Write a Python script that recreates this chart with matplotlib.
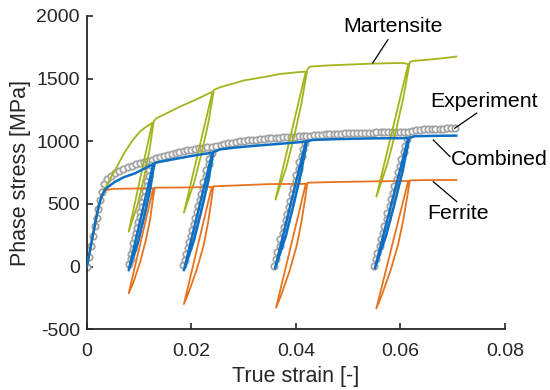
import matplotlib
matplotlib.use("Agg")
import matplotlib.pyplot as plt

plt.rcParams['font.family'] = ['Liberation Sans', 'DejaVu Sans']

# ---- Martensite phase stress (strain, MPa) ----
martensite_strain = [0, 0.0012, 0.0022, 0.0028, 0.0038, 0.0054, 0.0073, 0.0088, 0.0101, 0.0113, 0.0125,
                     0.0080, 0.00973, 0.01095, 0.01198, 0.0128,
                     0.0133, 0.0178, 0.021, 0.02405,
                     0.01856, 0.02053, 0.0220, 0.02328, 0.0243,
                     0.0255, 0.030, 0.035, 0.0369, 0.0405, 0.0419,
                     0.0361, 0.03815, 0.0397, 0.04105, 0.0422,
                     0.0427, 0.046, 0.050, 0.0548, 0.0605, 0.0615,
                     0.0554, 0.05753, 0.05915, 0.06058, 0.0618,
                     0.0624, 0.065, 0.068, 0.0707]
martensite_stress = [0, 250, 460, 560, 651, 771, 917, 1010, 1075, 1115, 1146,
                     280, 497, 713, 930, 1160,
                     1183, 1276, 1335, 1396,
                     430, 672, 913, 1155, 1410,
                     1431, 1485, 1521, 1537, 1552, 1556,
                     535, 790, 1045, 1300, 1575,
                     1596, 1605, 1612, 1620, 1625, 1615,
                     557, 822, 1086, 1350, 1632,
                     1641, 1650, 1662, 1676]

# ---- Combined (homogenised) stress ----
combined_strain = [0, 0.0012, 0.0022, 0.0028, 0.0034, 0.0045, 0.0054, 0.007, 0.0092, 0.011, 0.0127,
                   0.0080, 0.00972, 0.01095, 0.01207, 0.0129,
                   0.0135, 0.016, 0.019, 0.0215, 0.0240,
                   0.01856, 0.02047, 0.02188, 0.02319, 0.0242,
                   0.0255, 0.028, 0.031, 0.034, 0.037, 0.040, 0.0419,
                   0.0360, 0.03803, 0.03955, 0.04098, 0.0421,
                   0.0432, 0.047, 0.051, 0.055, 0.0615,
                   0.0551, 0.05725, 0.0589, 0.06045, 0.0617,
                   0.0628, 0.066, 0.0707]
combined_stress = [0, 265, 478, 557, 611, 650, 677, 712, 744, 782, 818,
                   -30, 182, 394, 606, 822,
                   832, 852, 875, 893, 909,
                   -30, 205, 440, 675, 913,
                   935, 948, 960, 970, 980, 990, 997,
                   -15, 238, 491, 744, 1000,
                   1010, 1016, 1020, 1023, 1025,
                   -15, 245, 505, 765, 1028,
                   1040, 1043, 1045]

# ---- Ferrite phase stress ----
ferrite_strain = [0, 0.0012, 0.0022, 0.0028, 0.0033, 0.0038, 0.0050, 0.0127,
                  0.0080, 0.00887, 0.01021, 0.01125, 0.01209, 0.01263, 0.0130,
                  0.016, 0.020, 0.0239,
                  0.01856, 0.01949, 0.02106, 0.02233, 0.0232, 0.02387, 0.0242,
                  0.026, 0.030, 0.035, 0.0419,
                  0.0362, 0.03717, 0.03881, 0.04015, 0.04109, 0.04183, 0.0422,
                  0.0427, 0.048, 0.055, 0.0615,
                  0.0554, 0.05641, 0.05813, 0.05955, 0.06057, 0.06139, 0.0618,
                  0.065, 0.0707]
ferrite_stress = [0, 250, 460, 571, 598, 611, 620, 625,
                  -214, -130, 38, 206, 373, 541, 630,
                  630, 632, 635,
                  -300, -206, -19, 167, 354, 541, 640,
                  643, 650, 658, 660,
                  -329, -230, -32, 166, 363, 561, 668,
                  670, 675, 680, 683,
                  -334, -233, -30, 173, 376, 579, 688,
                  690, 691]

# ---- Experimental macroscopic stress (sampled points) ----
experiment_strain = [
    0, 0.0004, 0.0008, 0.0012, 0.0016, 0.0019, 0.0022, 0.0025, 0.0028, 0.0033, 0.0039,
    0.0046, 0.0054, 0.0062, 0.0070, 0.0078, 0.0086, 0.0094, 0.0102, 0.0110, 0.0117, 0.0124,
    0.01196, 0.01152, 0.01108, 0.01064, 0.0102, 0.00976, 0.00932, 0.00888, 0.00844, 0.0080,
    0.00836, 0.0088, 0.00924, 0.00968, 0.01012, 0.01056, 0.0110, 0.01144, 0.01188, 0.01232,
    0.0132, 0.0140, 0.0147, 0.0155, 0.0162, 0.0170, 0.0177, 0.0185, 0.0192, 0.0200,
    0.0207, 0.0215, 0.0222, 0.0230, 0.0240,
    0.02344, 0.02287, 0.02231, 0.02175, 0.02119, 0.02063, 0.02007, 0.01951, 0.01894, 0.0184,
    0.01882, 0.01938, 0.01994, 0.0205, 0.02106, 0.02162, 0.02218, 0.02275, 0.02331, 0.02387,
    0.0248, 0.0256, 0.0263, 0.0271, 0.0278, 0.0286, 0.0293, 0.0301, 0.0308, 0.0316,
    0.0323, 0.0331, 0.0338, 0.0346, 0.0353, 0.0361, 0.0368, 0.0376, 0.0383, 0.0391,
    0.0398, 0.0406, 0.0413, 0.0419,
    0.04129, 0.04068, 0.04008, 0.03947, 0.03886, 0.03826, 0.03765, 0.03704, 0.03644, 0.0358,
    0.03627, 0.03689, 0.0375, 0.0381, 0.03871, 0.03931, 0.03993, 0.04053, 0.04113, 0.04174,
    0.0427, 0.0434, 0.0442, 0.0449, 0.0457, 0.0464, 0.0472, 0.0479, 0.0487, 0.0494,
    0.0502, 0.0509, 0.0517, 0.0524, 0.0532, 0.0539, 0.0547, 0.0554, 0.0562, 0.0569,
    0.0577, 0.0584, 0.0592, 0.0600, 0.0607, 0.0615,
    0.06084, 0.06018, 0.05952, 0.05886, 0.05819, 0.05753, 0.05687, 0.05621, 0.05554, 0.0549,
    0.05537, 0.05603, 0.05669, 0.05735, 0.05802, 0.05867, 0.05933, 0.0600, 0.06066, 0.06132,
    0.0622, 0.0630, 0.0637, 0.0645, 0.0652, 0.0660, 0.0667, 0.0675, 0.0682, 0.0690,
    0.0697, 0.0705]
experiment_stress = [
    0, 80, 160, 240, 320, 390, 460, 530, 595, 655, 700,
    725, 745, 762, 778, 792, 804, 815, 825, 834, 842, 850,
    767, 684, 601, 518, 435, 352, 269, 186, 103, 20,
    60, 143, 226, 309, 392, 475, 558, 641, 724, 807,
    863, 873, 882, 891, 899, 907, 914, 921, 927, 933,
    939, 944, 949, 953, 957,
    862, 767, 672, 577, 482, 387, 292, 197, 102, 10,
    56, 150, 245, 340, 435, 530, 625, 720, 815, 910,
    965, 972, 978, 984, 989, 994, 999, 1003, 1007, 1011,
    1014, 1017, 1020, 1023, 1025, 1027, 1029, 1031, 1033, 1035,
    1036, 1038, 1039, 1040,
    937, 834, 731, 628, 525, 422, 319, 216, 113, 5,
    60, 165, 268, 370, 473, 576, 680, 782, 885, 988,
    1045, 1048, 1050, 1052, 1054, 1056, 1057, 1059, 1060, 1062,
    1063, 1064, 1065, 1066, 1067, 1068, 1069, 1070, 1070, 1071,
    1071, 1072, 1072, 1072, 1072, 1072,
    965, 858, 751, 644, 537, 430, 323, 216, 109, 5,
    57, 163, 270, 377, 484, 590, 697, 804, 911, 1018,
    1080, 1087, 1091, 1094, 1096, 1098, 1099, 1100, 1101, 1102,
    1103, 1104]

x_ticks = [0, 0.02, 0.04, 0.06, 0.08]
x_tick_labels = ['0', '0.02', '0.04', '0.06', '0.08']
y_ticks = [-500, 0, 500, 1000, 1500, 2000]
y_tick_labels = ['-500', '0', '500', '1000', '1500', '2000']

# curve labels: (text, text position, leader start, leader end)
labels = [
    ('Martensite', (0.0586, 1913), (0.0576, 1810), (0.0547, 1625)),
    ('Experiment', (0.0760, 1314), (0.0746, 1224), (0.0704, 1104)),
    ('Combined', (0.0790, 851), (0.0695, 877), (0.0663, 1010)),
    ('Ferrite', (0.0710, 427), (0.0708, 518), (0.0663, 677)),
]

INK = '#262626'
fig = plt.figure(figsize=(5.5, 3.9), dpi=100)
ax = fig.add_axes([0.158, 0.156, 0.760, 0.803])

ax.plot(experiment_strain, experiment_stress, linestyle='none', marker='o',
        markersize=4.6, markerfacecolor='white', markeredgecolor='#A3A3A3',
        markeredgewidth=1.3, zorder=2)
ax.plot(martensite_strain, martensite_stress, color='#A4B41C', lw=1.3, zorder=3)
ax.plot(ferrite_strain, ferrite_stress, color='#E8731E', lw=1.3, zorder=3)
ax.plot(combined_strain, combined_stress, color='#0B6FC4', lw=1.8, zorder=4)

for text, (tx, ty), (x0, y0), (x1, y1) in labels:
    ax.text(tx, ty, text, ha='center', va='center', fontsize=15.3, color='black')
    ax.plot([x0, x1], [y0, y1], color='black', lw=0.9, clip_on=False, zorder=5)

ax.set_xlim(0, 0.08)
ax.set_ylim(-500, 2000)
ax.set_xticks(x_ticks)
ax.set_xticklabels(x_tick_labels)
ax.set_yticks(y_ticks)
ax.set_yticklabels(y_tick_labels)

for side in ('top', 'right'):
    ax.spines[side].set_visible(False)
for side in ('left', 'bottom'):
    ax.spines[side].set_color(INK)
    ax.spines[side].set_linewidth(1.3)

ax.tick_params(direction='in', length=4, width=1.2, colors=INK, labelsize=14, pad=5)
ax.tick_params(axis='x', pad=10)
ax.set_xlabel('True strain [-]', fontsize=15.5, color=INK, labelpad=4.5)
ax.set_ylabel('Phase stress [MPa]', fontsize=15.5, color=INK, labelpad=4)

fig.savefig('out.png', dpi=100)
